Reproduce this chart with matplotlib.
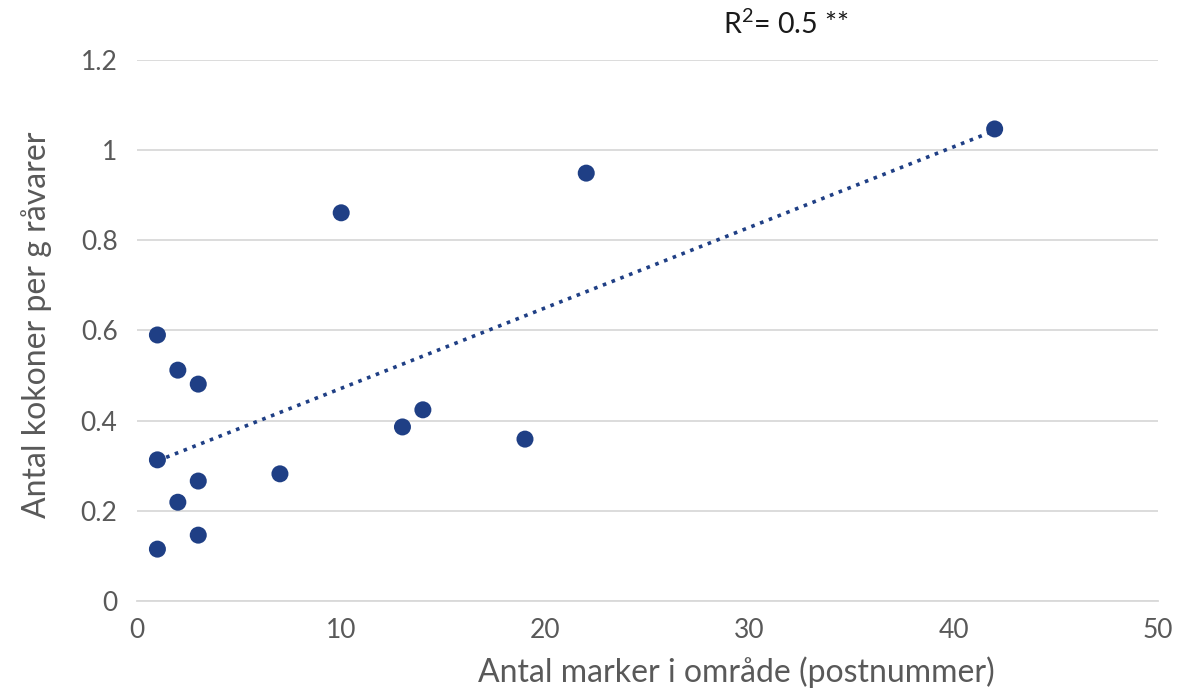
import numpy as np
import matplotlib
matplotlib.use("Agg")
import matplotlib.pyplot as plt

# Data
markers = [1, 2, 3, 1, 3, 2, 3, 1, 7, 10, 13, 14, 19, 22, 42]
kokoner = [0.590, 0.512, 0.481, 0.313, 0.266, 0.219, 0.146, 0.115,
           0.282, 0.861, 0.386, 0.424, 0.359, 0.949, 1.047]
x_ticks = [0, 10, 20, 30, 40, 50]
y_ticks = [0, 0.2, 0.4, 0.6, 0.8, 1.0, 1.2]
y_tick_labels = ["0", "0.2", "0.4", "0.6", "0.8", "1", "1.2"]
annotation = "R$^2$= 0.5 **"

plt.rcParams['font.family'] = ['Lato', 'DejaVu Sans']
plt.rcParams['mathtext.fontset'] = 'custom'
plt.rcParams['mathtext.rm'] = 'Lato'
txt = '#595959'
blue = '#1F3F85'
W = 400

fig = plt.figure(figsize=(11.79, 6.95), dpi=100)
ax = fig.add_axes([0.1162, 0.1353, 0.866, 0.7784])

x = np.array(markers, dtype=float)
y = np.array(kokoner)
slope, intercept = np.polyfit(x, y, 1)
xl = np.array([x.min(), x.max()])
ax.plot(xl, slope * xl + intercept, linestyle=(0, (1, 1.6)), color=blue,
        linewidth=2.6, zorder=2)
ax.scatter(x, y, s=150, color=blue, zorder=3, edgecolors='none')

ax.set_xlim(0, 50)
ax.set_ylim(0, 1.2)
ax.set_xticks(x_ticks)
ax.set_yticks(y_ticks)
ax.set_yticklabels(y_tick_labels)
ax.grid(axis='y', color='#D9D9D9', linewidth=1.3, zorder=0)
ax.set_axisbelow(True)
for s in ['top', 'right', 'left']:
    ax.spines[s].set_visible(False)
ax.spines['bottom'].set_color('#D9D9D9')
ax.spines['bottom'].set_linewidth(1.3)
ax.tick_params(axis='both', length=0, labelsize=19, labelcolor=txt, pad=14)
ax.tick_params(axis='x', pad=12)
for lab in ax.get_xticklabels() + ax.get_yticklabels():
    lab.set_fontweight(W)
ax.set_xlabel("Antal marker i område (postnummer)", fontsize=23, color=txt,
              fontweight=W)
ax.xaxis.set_label_coords(0.587, -0.103)
ax.set_ylabel("Antal kokoner per g råvarer", fontsize=23, color=txt,
              fontweight=W)
ax.yaxis.set_label_coords(-0.083, 0.51)

fig.text(786 / 1179, 1 - 24 / 695, annotation, fontsize=20.5, color='#1a1a1a',
         ha='center', va='center')

fig.savefig("out.png", dpi=100)
